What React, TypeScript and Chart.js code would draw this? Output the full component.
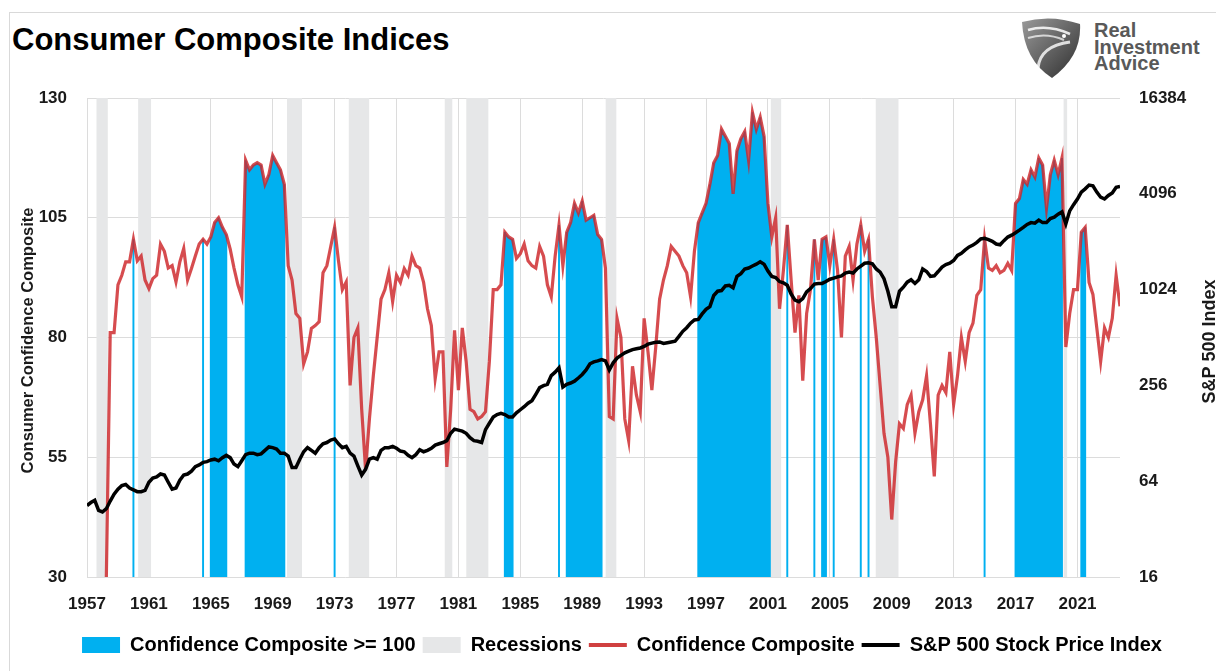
import React, { useEffect, useRef } from 'react';
import { Chart, registerables } from 'chart.js';

Chart.register(...registerables);

// ---------------- data (quarterly, starting 1957 Q1) ----------------
const START_YEAR = 1957;
const PERIODS_PER_YEAR = 4;
const X_MIN = 1957;
const X_MAX = 2023.75;
const THRESHOLD = 100;

// Consumer Confidence Composite, one row per year (Jan, Apr, Jul, Oct)
const confidence: (number | null)[] = [
  null, null, null, null, // 1957
  null, 30, 81, 81, // 1958
  91, 93, 95.8, 95.8, // 1959
  100.5, 96, 97, 92, // 1960
  90.2, 92.3, 93, 99.5, // 1961
  98, 94.5, 95, 91.6, // 1962
  95.8, 98.6, 92, 94.4, // 1963
  97, 99.5, 100.5, 99.5, // 1964
  101, 104, 105, 103, // 1965
  101.5, 98.5, 94.5, 91, // 1966
  88.5, 117, 115, 116, // 1967
  116.5, 116, 112, 114, // 1968
  118, 116.5, 115, 112, // 1969
  95, 92, 85, 84, // 1970
  74.5, 77, 81.9, 82.5, // 1971
  83.3, 93.5, 95, 99, // 1972
  103, 96, 90, 91.6, // 1973
  70, 80, 82, 65, // 1974
  52.5, 63, 72, 80, // 1975
  88, 90, 93.5, 87.5, // 1976
  93, 91.5, 94.4, 93, // 1977
  97, 95, 94.5, 91.5, // 1978
  86, 82.5, 71.4, 77, // 1979
  77, 53, 65, 81.5, // 1980
  69, 82, 75, 65, // 1981
  64.5, 63, 63.5, 64.5, // 1982
  75, 90, 90, 91, // 1983
  102, 101, 100.5, 96.5, // 1984
  97.5, 99.5, 96, 95, // 1985
  94.5, 99, 97, 91, // 1986
  88.5, 97, 103.5, 95, // 1987
  102, 104, 108, 106, // 1988
  108.5, 104.5, 105, 105.5, // 1989
  101.5, 100.5, 94.5, 63.5, // 1990
  63, 84, 80, 63, // 1991
  58.5, 74, 68, 64.5, // 1992
  84, 77, 69, 78, // 1993
  88, 92, 95, 99, // 1994
  98, 97, 95, 93.5, // 1995
  88.5, 98, 104, 106, // 1996
  108, 112, 116.5, 118, // 1997
  123.5, 122, 120.5, 110, // 1998
  119, 121.5, 123, 117, // 1999
  127, 123.5, 126, 122, // 2000
  108, 101, 105, 86, // 2001
  94, 103.5, 92, 81, // 2002
  88.8, 71, 85, 90, // 2003
  100.5, 92, 100.5, 101, // 2004
  95, 100.5, 94, 80, // 2005
  97, 99, 92, 99.5, // 2006
  103.5, 98, 100.5, 88.5, // 2007
  80, 70, 60, 55, // 2008
  42, 54, 62, 61, // 2009
  66, 68, 60, 64.5, // 2010
  67, 72, 62, 51, // 2011
  68, 70, 68.5, 77, // 2012
  66, 72, 80, 75, // 2013
  81, 83, 88.8, 90, // 2014
  100.5, 94.5, 94, 95, // 2015
  93.5, 94, 95.5, 94, // 2016
  108, 109, 113, 112, // 2017
  115, 113.5, 117.5, 116, // 2018
  107, 114, 117, 114, // 2019
  117.5, 78, 85, 90, // 2020
  90, 102, 103, 91.5, // 2021
  89, 82, 75, 82, // 2022
  80, 84, 93, 86.5, // 2023
];

// S&P 500 Stock Price Index, one row per year (Jan, Apr, Jul, Oct)
const sp500: number[] = [
  45, 47, 48.5, 42, // 1957
  41, 43, 48, 53, // 1958
  57, 60, 61, 58, // 1959
  56.5, 55, 55, 56, // 1960
  63, 67, 68, 71, // 1961
  70, 63, 57, 58, // 1962
  65, 70, 71, 74, // 1963
  79, 81, 84, 85, // 1964
  87, 88, 86, 90, // 1965
  93, 90, 82, 79, // 1966
  86, 94, 96, 96, // 1967
  94, 95, 100, 105, // 1968
  104, 102, 96, 96, // 1969
  92, 78, 78, 88, // 1970
  98, 104, 100, 96, // 1971
  104, 110, 112, 116, // 1972
  118, 110, 104, 106, // 1973
  96, 92, 80, 70, // 1974
  76, 88, 90, 88, // 1975
  100, 104, 104, 106, // 1976
  103, 99, 98, 93, // 1977
  90, 94, 101, 98, // 1978
  100, 103, 108, 110, // 1979
  112, 115, 128, 136, // 1980
  134, 132, 128, 120, // 1981
  115, 114, 112, 135, // 1982
  148, 162, 168, 171, // 1983
  168, 162, 162, 172, // 1984
  180, 188, 198, 205, // 1985
  225, 248, 255, 260, // 1986
  295, 310, 330, 250, // 1987
  260, 265, 272, 285, // 1988
  300, 320, 350, 360, // 1989
  365, 372, 365, 320, // 1990
  355, 380, 395, 410, // 1991
  420, 430, 435, 440, // 1992
  450, 465, 472, 478, // 1993
  480, 470, 475, 480, // 1994
  485, 520, 560, 590, // 1995
  630, 660, 665, 720, // 1996
  770, 800, 940, 1000, // 1997
  1010, 1080, 1090, 1050, // 1998
  1240, 1290, 1380, 1400, // 1999
  1440, 1480, 1530, 1480, // 2000
  1340, 1240, 1220, 1150, // 2001
  1130, 1090, 960, 880, // 2002
  860, 900, 990, 1040, // 2003
  1110, 1120, 1120, 1150, // 2004
  1190, 1210, 1230, 1250, // 2005
  1300, 1320, 1300, 1380, // 2006
  1440, 1500, 1510, 1490, // 2007
  1380, 1320, 1200, 1000, // 2008
  800, 800, 1000, 1060, // 2009
  1140, 1180, 1120, 1180, // 2010
  1380, 1330, 1240, 1250, // 2011
  1330, 1420, 1470, 1500, // 2012
  1560, 1680, 1730, 1820, // 2013
  1900, 1950, 2030, 2130, // 2014
  2150, 2110, 2060, 1980, // 2015
  1960, 2080, 2190, 2250, // 2016
  2330, 2420, 2520, 2630, // 2017
  2700, 2680, 2800, 2700, // 2018
  2700, 2860, 2920, 3050, // 2019
  3150, 2650, 3200, 3500, // 2020
  3800, 4200, 4400, 4650, // 2021
  4600, 4200, 3900, 3800, // 2022
  4000, 4150, 4500, 4550, // 2023
];

// US recessions (decimal years)
const recessionStart = [1957.6, 1960.3, 1969.92, 1973.9, 1980.1, 1981.5, 1990.5, 2001.17, 2007.95, 2020.09];
const recessionEnd = [1958.35, 1961.15, 1970.9, 1975.25, 1980.62, 1982.95, 1991.22, 2001.87, 2009.45, 2020.35];

const yearTicks = [1957, 1961, 1965, 1969, 1973, 1977, 1981, 1985, 1989, 1993, 1997, 2001, 2005, 2009, 2013, 2017, 2021];
const leftTicks = [30, 55, 80, 105, 130];
const rightTicks = [16, 64, 256, 1024, 4096, 16384];

const TITLE = 'Consumer Composite Indices';
const LEFT_TITLE = 'Consumer Confidence Composite';
const RIGHT_TITLE = 'S&P 500 Index';
const LEGEND_LABELS = ['Confidence Composite >= 100', 'Recessions', 'Confidence Composite', 'S&P 500 Stock Price Index'];

// ---------------- styles ----------------
const BLUE = '#00b0f0';
const GRAY = '#e6e7e8';
const RED = 'rgba(205, 36, 40, 0.82)';
const BLACK = '#000000';
const GRID = '#dcdcdc';
const TEXT = '#1a1a1a';
const FONT = '"Liberation Sans", Arial, sans-serif';

const axisTitlePlugin = {
  id: 'axisTitles',
  afterDraw(chart: any) {
    const { ctx, chartArea, scales } = chart;
    const midY = (chartArea.top + chartArea.bottom) / 2;
    ctx.save();
    ctx.fillStyle = TEXT;
    ctx.font = `bold 16.5px ${FONT}`;
    ctx.textAlign = 'center';
    ctx.textBaseline = 'middle';
    ctx.translate(scales.y.left, midY + 3);
    ctx.rotate(-Math.PI / 2);
    ctx.fillText(LEFT_TITLE, 0, 0);
    ctx.restore();

    ctx.save();
    ctx.fillStyle = TEXT;
    ctx.font = `bold 18px ${FONT}`;
    ctx.textAlign = 'center';
    ctx.textBaseline = 'middle';
    ctx.translate(scales.y2.right - 6, midY + 4);
    ctx.rotate(-Math.PI / 2);
    ctx.fillText(RIGHT_TITLE, 0, 0);
    ctx.restore();
  },
};

export default function App() {
  const canvasRef = useRef<HTMLCanvasElement>(null);

  useEffect(() => {
    const canvas = canvasRef.current;
    if (!canvas) return;
    const years = confidence.map((_, i) => START_YEAR + i / PERIODS_PER_YEAR);
    const confPts = confidence.map((v, i) => ({ x: years[i], y: v }));
    const highPts = confidence.map((v, i) => ({ x: years[i], y: v != null && v >= THRESHOLD ? v : null }));
    const spPts = sp500.map((v, i) => ({ x: START_YEAR + i / PERIODS_PER_YEAR, y: v }));
    const recPts: { x: number; y: number | null }[] = [];
    recessionStart.forEach((s, i) => {
      recPts.push({ x: s, y: 1 }, { x: recessionEnd[i], y: 1 }, { x: recessionEnd[i], y: null });
    });

    const tickFont = { family: FONT, size: 17, weight: 'bold' as const };

    const chart = new Chart(canvas, {
      type: 'line',
      data: {
        datasets: [
          {
            // thin columns for each period at or above 100
            type: 'bar',
            label: LEGEND_LABELS[0],
            data: highPts as any,
            backgroundColor: BLUE,
            borderWidth: 0,
            barPercentage: 0.5,
            categoryPercentage: 1,
            yAxisID: 'y',
            order: 4,
          },
          {
            // area under the composite while it stays at or above 100
            type: 'line',
            label: LEGEND_LABELS[0] + ' area',
            data: highPts as any,
            yAxisID: 'y',
            backgroundColor: BLUE,
            borderColor: BLUE,
            borderWidth: 0,
            pointRadius: 0,
            fill: 'start',
            spanGaps: false,
            order: 3,
          },
          {
            type: 'line',
            label: LEGEND_LABELS[1],
            data: recPts as any,
            yAxisID: 'yRec',
            backgroundColor: GRAY,
            borderColor: GRAY,
            borderWidth: 0,
            pointRadius: 0,
            fill: 'origin',
            spanGaps: false,
            order: 2,
          },
          {
            type: 'line',
            label: LEGEND_LABELS[2],
            data: confPts as any,
            yAxisID: 'y',
            borderColor: RED,
            borderWidth: 3.2,
            pointRadius: 0,
            fill: false,
            tension: 0,
            order: 1,
          },
          {
            type: 'line',
            label: LEGEND_LABELS[3],
            data: spPts as any,
            yAxisID: 'y2',
            borderColor: BLACK,
            borderWidth: 3.5,
            pointRadius: 0,
            fill: false,
            tension: 0,
            order: 0,
          },
        ],
      },
      options: {
        responsive: false,
        maintainAspectRatio: false,
        animation: false,
        events: [],
        layout: { padding: { left: 28, right: 0, top: 98, bottom: 6 } },
        scales: {
          x: {
            type: 'linear',
            min: X_MIN,
            max: X_MAX,
            offset: false,
            grid: { color: GRID, drawTicks: false, offset: false, lineWidth: 1 },
            border: { display: false },
            afterBuildTicks: (s: any) => {
              s.ticks = yearTicks.map((v) => ({ value: v }));
            },
            afterFit: (s: any) => {
              s.height = 51;
            },
            ticks: {
              autoSkip: false,
              maxRotation: 0,
              padding: 17,
              color: TEXT,
              font: tickFont,
              callback: (v: any) => String(v),
            },
          },
          y: {
            type: 'linear',
            position: 'left',
            min: 30,
            max: 130,
            grid: { color: GRID, drawTicks: false, lineWidth: 1 },
            border: { display: false },
            afterBuildTicks: (s: any) => {
              s.ticks = leftTicks.map((v) => ({ value: v }));
            },
            afterFit: (s: any) => {
              s.width = 59;
            },
            ticks: { padding: 20, color: TEXT, font: tickFont, callback: (v: any) => String(v) },
          },
          y2: {
            type: 'logarithmic',
            position: 'right',
            min: 16,
            max: 16384,
            grid: { display: false, drawTicks: false },
            border: { display: false },
            afterBuildTicks: (s: any) => {
              s.ticks = rightTicks.map((v) => ({ value: v }));
            },
            afterFit: (s: any) => {
              s.width = 96;
            },
            ticks: { padding: 19, color: TEXT, font: tickFont, callback: (v: any) => String(v) },
          },
          yRec: { type: 'linear', min: 0, max: 1, display: false },
        },
        plugins: {
          tooltip: { enabled: false },
          title: { display: false },
          legend: {
            display: true,
            position: 'bottom',
            labels: {
              usePointStyle: true,
              pointStyleWidth: 38,
              boxHeight: 16,
              padding: 7,
              color: TEXT,
              font: { family: FONT, size: 20, weight: 'bold' },
              generateLabels: () => [
                { text: LEGEND_LABELS[0], fillStyle: BLUE, strokeStyle: BLUE, lineWidth: 0, pointStyle: 'rect', hidden: false, datasetIndex: 0 },
                { text: LEGEND_LABELS[1], fillStyle: GRAY, strokeStyle: GRAY, lineWidth: 0, pointStyle: 'rect', hidden: false, datasetIndex: 2 },
                { text: LEGEND_LABELS[2], fillStyle: RED, strokeStyle: '#d04040', lineWidth: 4, pointStyle: 'line', hidden: false, datasetIndex: 3 },
                { text: LEGEND_LABELS[3], fillStyle: BLACK, strokeStyle: BLACK, lineWidth: 4, pointStyle: 'line', hidden: false, datasetIndex: 4 },
              ] as any,
            },
          },
        },
      } as any,
      plugins: [axisTitlePlugin],
    });

    return () => chart.destroy();
  }, []);

  return (
    <div style={{ position: 'fixed', left: 0, top: 0, width: 1216, height: 671, background: '#fff', overflow: 'hidden' }}>
      <div style={{ position: 'absolute', left: 9, top: 12, width: 1300, height: 800, border: '1px solid #d9d9d9' }} />
      <div
        style={{
          position: 'absolute',
          left: 12,
          top: 24,
          font: `bold 31px ${FONT}`,
          lineHeight: '31px',
          color: '#000',
          whiteSpace: 'nowrap',
        }}
      >
        {TITLE}
      </div>
      <svg style={{ position: 'absolute', left: 1018, top: 16 }} width={66} height={66} viewBox="0 0 66 66">
        <defs>
          <linearGradient id="shieldGrad" x1="0" y1="0" x2="1" y2="1">
            <stop offset="0" stopColor="#9a9a9a" />
            <stop offset="1" stopColor="#2e2e2e" />
          </linearGradient>
        </defs>
        <path d="M4 6 Q33 -2 62 8 Q64 40 34 62 Q6 44 4 6 Z" fill="url(#shieldGrad)" />
        <path d="M10 14 Q30 8 52 18" stroke="#ffffff" strokeWidth="2.5" fill="none" opacity="0.85" />
        <path d="M10 22 Q28 16 46 24" stroke="#ffffff" strokeWidth="2" fill="none" opacity="0.7" />
        <path d="M20 52 Q22 30 52 26" stroke="#ffffff" strokeWidth="3" fill="none" opacity="0.8" />
        <circle cx="46" cy="20" r="2" fill="#ffffff" />
      </svg>
      <div
        style={{
          position: 'absolute',
          left: 1094,
          top: 22,
          font: `bold 20px ${FONT}`,
          lineHeight: '16.7px',
          color: '#595959',
          whiteSpace: 'nowrap',
        }}
      >
        <div>Real</div>
        <div>Investment</div>
        <div>Advice</div>
      </div>
      <canvas ref={canvasRef} width={1216} height={671} style={{ position: 'absolute', left: 0, top: 0, width: 1216, height: 671 }} />
    </div>
  );
}
